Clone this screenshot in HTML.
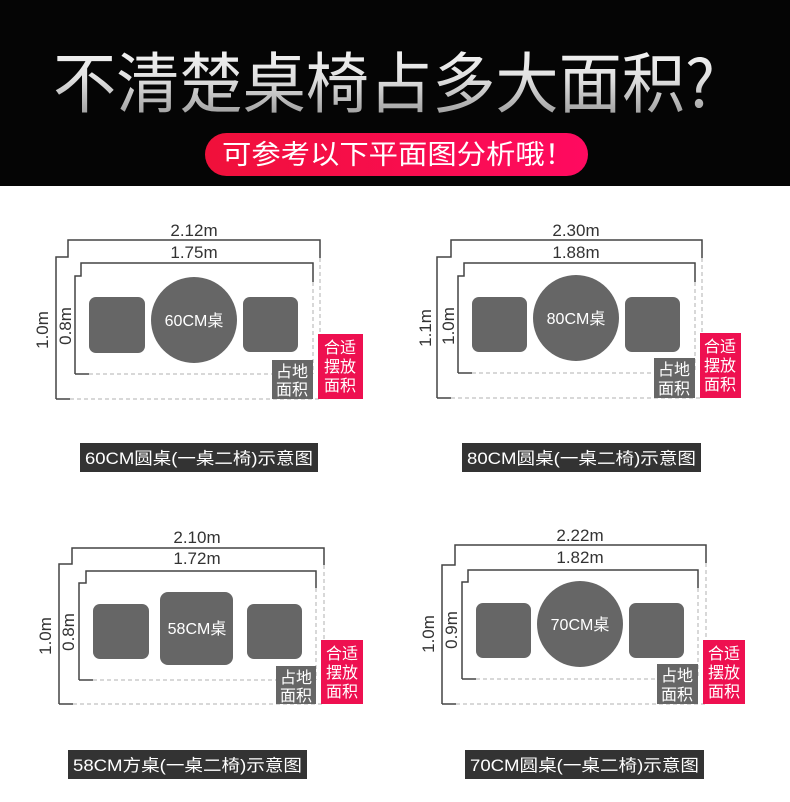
<!DOCTYPE html>
<html><head><meta charset="utf-8"><style>
html,body{margin:0;padding:0;background:#fff;}
svg{display:block;font-family:"Liberation Sans","Noto Sans CJK SC",sans-serif;}
</style></head><body>
<svg width="790" height="802" viewBox="0 0 790 802" xmlns="http://www.w3.org/2000/svg">
<defs>
<linearGradient id="tg" x1="0" y1="0" x2="0" y2="1">
<stop offset="0" stop-color="#ffffff"/><stop offset="0.5" stop-color="#e0e0e0"/><stop offset="1" stop-color="#8a8a8a"/>
</linearGradient>
<linearGradient id="pg" x1="0" y1="0" x2="1" y2="0">
<stop offset="0" stop-color="#f0103a"/><stop offset="1" stop-color="#ff0a60"/>
</linearGradient>
</defs>
<rect x="0" y="0" width="790" height="186" fill="#050505"/>
<text x="53" y="107" font-size="66" fill="url(#tg)" textLength="662" lengthAdjust="spacingAndGlyphs" font-family="Noto Sans CJK SC, sans-serif" font-weight="400">不清楚桌椅占多大面积?</text>
<rect x="205" y="133" width="383" height="43" rx="21.5" fill="url(#pg)"/>
<text x="222" y="164" font-size="27" fill="#fff" textLength="352" lengthAdjust="spacingAndGlyphs" font-family="Noto Sans CJK SC, sans-serif">可参考以下平面图分析哦！</text>

<g stroke-width="1.5" fill="none">
<path d="M56,399 V257 H68 V240 H320 V258" stroke="#444"/>
<path d="M320,258 V399 M70,399 H320" stroke="#ccc" stroke-dasharray="4,3"/>
<path d="M56,399 H70" stroke="#444"/>
<path d="M75,374 V276 H81 V263 H313 V282" stroke="#444"/>
<path d="M313,282 V374 M89,374 H313" stroke="#ccc" stroke-dasharray="4,3"/>
<path d="M75,374 H89" stroke="#444"/>
<path d="M437,398 V257 H451 V240 H702 V258" stroke="#444"/>
<path d="M702,258 V398 M451,398 H702" stroke="#ccc" stroke-dasharray="4,3"/>
<path d="M437,398 H451" stroke="#444"/>
<path d="M458,373 V276 H464 V263 H695 V282" stroke="#444"/>
<path d="M695,282 V373 M472,373 H695" stroke="#ccc" stroke-dasharray="4,3"/>
<path d="M458,373 H472" stroke="#444"/>
<path d="M59,704 V564 H72 V548 H324 V565" stroke="#444"/>
<path d="M324,565 V704 M73,704 H324" stroke="#ccc" stroke-dasharray="4,3"/>
<path d="M59,704 H73" stroke="#444"/>
<path d="M79,680 V583 H86 V571 H316 V588" stroke="#444"/>
<path d="M316,588 V680 M93,680 H316" stroke="#ccc" stroke-dasharray="4,3"/>
<path d="M79,680 H93" stroke="#444"/>
<path d="M442,704 V565 H455 V545 H706 V563" stroke="#444"/>
<path d="M706,563 V704 M456,704 H706" stroke="#ccc" stroke-dasharray="4,3"/>
<path d="M442,704 H456" stroke="#444"/>
<path d="M462,679 V582 H468 V570 H698 V588" stroke="#444"/>
<path d="M698,588 V679 M476,679 H698" stroke="#ccc" stroke-dasharray="4,3"/>
<path d="M462,679 H476" stroke="#444"/>
</g>

<g fill="#666">
<rect x="89" y="297" width="56" height="56" rx="7"/>
<rect x="243" y="297" width="55" height="55" rx="7"/>
<circle cx="194" cy="320" r="43"/>
<rect x="472" y="297" width="55" height="55" rx="7"/>
<rect x="625" y="297" width="55" height="55" rx="7"/>
<circle cx="576" cy="318" r="43"/>
<rect x="93" y="604" width="56" height="55" rx="7"/>
<rect x="247" y="604" width="55" height="55" rx="7"/>
<rect x="160" y="592" width="73" height="73" rx="8"/>
<rect x="476" y="603" width="55" height="55" rx="7"/>
<rect x="629" y="603" width="55" height="55" rx="7"/>
<circle cx="580" cy="624" r="43"/>
<rect x="272" y="360" width="41" height="39"/>
<rect x="654" y="358" width="41" height="40"/>
<rect x="276" y="666" width="40" height="38"/>
<rect x="657" y="664" width="41" height="40"/>
</g>
<g fill="#ee1050">
<rect x="318" y="334" width="45" height="65"/>
<rect x="700" y="333" width="41" height="65"/>
<rect x="321" y="640" width="42" height="64"/>
<rect x="703" y="640" width="42" height="64"/>
</g>
<g fill="#333">
<rect x="80" y="443" width="238" height="29"/>
<rect x="462" y="443" width="239" height="29"/>
<rect x="68" y="750" width="239" height="29"/>
<rect x="465" y="750" width="239" height="29"/>
</g>

<g font-size="16" fill="#fff" text-anchor="middle">
<text x="194" y="326">60CM桌</text>
<text x="576" y="324">80CM桌</text>
<text x="197" y="634">58CM桌</text>
<text x="580" y="630">70CM桌</text>
</g>
<g font-size="16" fill="#fff" text-anchor="middle">
<text x="292" y="377">占地</text><text x="292" y="395">面积</text>
<text x="674" y="375">占地</text><text x="674" y="394">面积</text>
<text x="296" y="683">占地</text><text x="296" y="701">面积</text>
<text x="677" y="681">占地</text><text x="677" y="700">面积</text>
<text x="340" y="353">合适</text><text x="340" y="372">摆放</text><text x="340" y="391">面积</text>
<text x="720" y="352">合适</text><text x="720" y="371">摆放</text><text x="720" y="390">面积</text>
<text x="342" y="659">合适</text><text x="342" y="678">摆放</text><text x="342" y="697">面积</text>
<text x="724" y="659">合适</text><text x="724" y="678">摆放</text><text x="724" y="697">面积</text>
</g>
<g font-size="16.5" fill="#fff">
<text x="85" y="464" textLength="228" lengthAdjust="spacingAndGlyphs">60CM圆桌(一桌二椅)示意图</text>
<text x="467" y="464" textLength="229" lengthAdjust="spacingAndGlyphs">80CM圆桌(一桌二椅)示意图</text>
<text x="73" y="771" textLength="229" lengthAdjust="spacingAndGlyphs">58CM方桌(一桌二椅)示意图</text>
<text x="470" y="771" textLength="229" lengthAdjust="spacingAndGlyphs">70CM圆桌(一桌二椅)示意图</text>
</g>
<g font-size="17" fill="#333" text-anchor="middle">
<text x="194" y="236">2.12m</text><text x="194" y="258">1.75m</text>
<text x="576" y="236">2.30m</text><text x="576" y="258">1.88m</text>
<text x="197" y="543">2.10m</text><text x="197" y="564">1.72m</text>
<text x="580" y="541">2.22m</text><text x="580" y="563">1.82m</text>
<text transform="translate(48,330) rotate(-90)">1.0m</text>
<text transform="translate(71,326) rotate(-90)">0.8m</text>
<text transform="translate(431,328) rotate(-90)">1.1m</text>
<text transform="translate(454,326) rotate(-90)">1.0m</text>
<text transform="translate(51,636) rotate(-90)">1.0m</text>
<text transform="translate(74,632) rotate(-90)">0.8m</text>
<text transform="translate(434,634) rotate(-90)">1.0m</text>
<text transform="translate(457,630) rotate(-90)">0.9m</text>
</g>
</svg>
</body></html>
